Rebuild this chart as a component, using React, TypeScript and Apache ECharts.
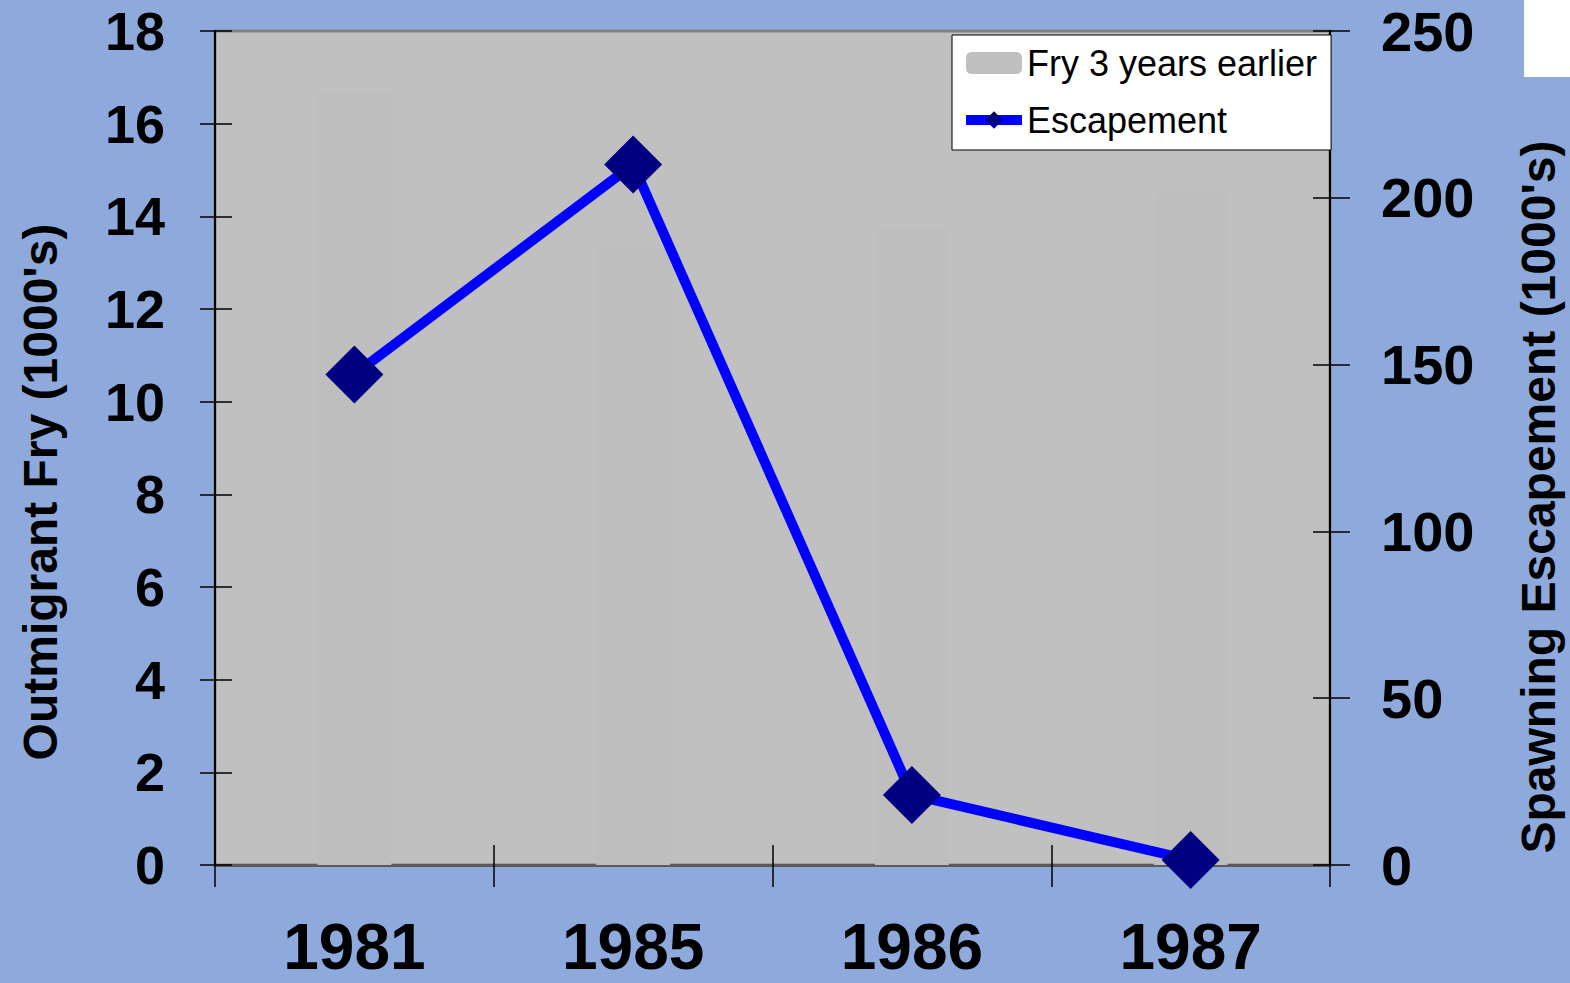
import React, { useEffect, useRef } from "react";
import * as echarts from "echarts";

const categories = ["1981", "1985", "1986", "1987"];
const fryValues = [16.7, 13.3, 13.7, 14.5];
const escapementValues = [147, 210, 21, 1.5];
const leftTicks = { min: 0, max: 18, interval: 2 };
const rightTicks = { min: 0, max: 250, interval: 50 };
const leftTitle = "Outmigrant Fry (1000's)";
const rightTitle = "Spawning Escapement (1000's)";

const FONT = "'Liberation Sans', Arial, sans-serif";

export default function App() {
  const ref = useRef<HTMLDivElement>(null);
  useEffect(() => {
    if (!ref.current) return;
    const chart = echarts.init(ref.current, null, { renderer: "svg" });
    const tickStyle = { color: "#000", width: 1.5 };
    chart.setOption({
      animation: false,
      backgroundColor: "#8eaadc",
      textStyle: { fontFamily: FONT },
      grid: {
        left: 215,
        right: 240,
        top: 31,
        bottom: 118,
        containLabel: false,
        outerBoundsMode: "none",
        show: true,
        backgroundColor: "#c0c0c0",
        borderColor: "#808080",
        borderWidth: 3,
      },
      legend: {
        orient: "vertical",
        left: 952,
        top: 35,
        backgroundColor: "#ffffff",
        borderColor: "#000",
        borderWidth: 1,
        padding: [10, 14, 12, 9],
        itemGap: 21,
        itemWidth: 56,
        itemHeight: 22,
        itemStyle: { borderWidth: 0 },
        textStyle: { fontSize: 36, lineHeight: 36, color: "#000", fontFamily: FONT },
        data: [
          { name: "Fry 3 years earlier", icon: "roundRect", itemStyle: { color: "#c0c0c0" } },
          { name: "Escapement", lineStyle: { width: 10, color: "#0000ff" } },
        ],
      },
      xAxis: [
        {
          type: "category",
          data: categories,
          boundaryGap: true,
          position: "bottom",
          axisLine: { show: true, lineStyle: { color: "#5a5a5a", width: 3 } },
          axisTick: { show: true, length: 22, lineStyle: tickStyle },
          axisLabel: {
            fontSize: 64,
            lineHeight: 56,
            fontWeight: "bold",
            color: "#000",
            margin: 54,
            fontFamily: FONT,
          },
        },
        {
          type: "category",
          data: categories,
          boundaryGap: true,
          position: "bottom",
          axisLine: { show: false },
          axisTick: { show: true, inside: true, length: 20, lineStyle: tickStyle },
          axisLabel: { show: false },
        },
      ],
      yAxis: [
        {
          type: "value",
          position: "left",
          ...leftTicks,
          axisLine: { show: true, lineStyle: { color: "#000", width: 2 } },
          axisTick: { show: true, length: 15, lineStyle: tickStyle },
          splitLine: { show: false },
          axisLabel: {
            fontSize: 54,
            fontWeight: "bold",
            color: "#000",
            margin: 50,
            fontFamily: FONT,
          },
        },
        {
          type: "value",
          position: "right",
          ...rightTicks,
          axisLine: { show: true, lineStyle: { color: "#000", width: 2 } },
          axisTick: { show: true, length: 20, lineStyle: tickStyle },
          splitLine: { show: false },
          axisLabel: {
            fontSize: 56,
            fontWeight: "bold",
            color: "#000",
            margin: 51,
            fontFamily: FONT,
          },
        },
        {
          type: "value",
          position: "left",
          ...leftTicks,
          axisLine: { show: false },
          axisTick: { show: true, inside: true, length: 17, lineStyle: tickStyle },
          splitLine: { show: false },
          axisLabel: { show: false },
        },
        {
          type: "value",
          position: "right",
          ...rightTicks,
          axisLine: { show: false },
          axisTick: { show: true, inside: true, length: 17, lineStyle: tickStyle },
          splitLine: { show: false },
          axisLabel: { show: false },
        },
      ],
      graphic: [
        {
          type: "rect",
          right: 0,
          top: 0,
          shape: { width: 46, height: 77 },
          style: { fill: "#ffffff" },
        },
        {
          type: "text",
          x: 40,
          y: 492,
          rotation: Math.PI / 2,
          style: {
            text: leftTitle,
            fontSize: 48,
            fontWeight: "bold",
            fontFamily: FONT,
            fill: "#000",
            align: "center",
            verticalAlign: "middle",
          },
        },
        {
          type: "text",
          x: 1538,
          y: 497,
          rotation: Math.PI / 2,
          style: {
            text: rightTitle,
            fontSize: 48,
            fontWeight: "bold",
            fontFamily: FONT,
            fill: "#000",
            align: "center",
            verticalAlign: "middle",
          },
        },
      ],
      series: [
        {
          name: "Fry 3 years earlier",
          type: "bar",
          xAxisIndex: 0,
          yAxisIndex: 0,
          data: fryValues,
          barWidth: "26.5%",
          itemStyle: { color: "#bebebe" },
          z: 1,
        },
        {
          name: "Escapement",
          type: "line",
          xAxisIndex: 0,
          yAxisIndex: 1,
          data: escapementValues,
          symbol: "diamond",
          symbolSize: 58,
          lineStyle: { color: "#0000ff", width: 10 },
          itemStyle: { color: "#000080", borderWidth: 0 },
          z: 5,
        },
      ],
    });
    return () => chart.dispose();
  }, []);
  return (
    <div
      ref={ref}
      style={{ position: "fixed", left: 0, top: 0, width: 1570, height: 983 }}
    />
  );
}
